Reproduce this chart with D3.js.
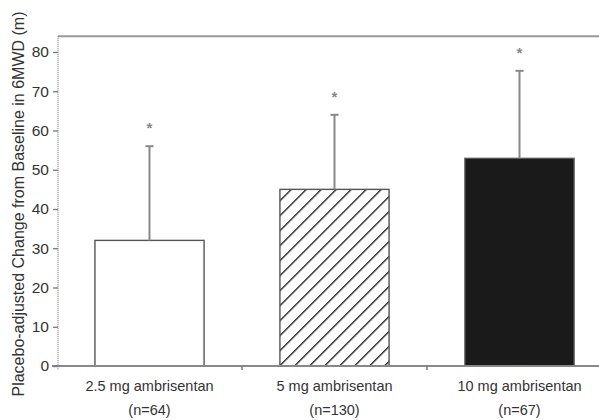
<!DOCTYPE html>
<html>
<head>
<meta charset="utf-8">
<script src="https://cdn.jsdelivr.net/npm/d3@7/dist/d3.min.js"></script>
<style>
  html, body { margin: 0; padding: 0; background: #fff; }
  svg { display: block; font-family: "Liberation Sans", Arial, sans-serif; }
</style>
</head>
<body>
<svg id="chart" width="599" height="420"></svg>
<script>
// Placebo-adjusted change in 6-minute walk distance by dose group
const categories = ["2.5 mg ambrisentan", "5 mg ambrisentan", "10 mg ambrisentan"];
const sampleSizes = ["(n=64)", "(n=130)", "(n=67)"];
const meanChange = [32, 45, 52.9];
const upperError = [56, 64, 75.2];
const significance = ["*", "*", "*"];
const yTicks = [0, 10, 20, 30, 40, 50, 60, 70, 80];
const yTitle = "Placebo-adjusted Change from Baseline in 6MWD (m)";

const svg = d3.select("#chart");

const x = d3.scaleBand()
  .domain(categories)
  .range([57, 612])
  .paddingInner(0.41)
  .paddingOuter(0.205);

const y = d3.scaleLinear().domain([0, 80]).range([366, 52]);

// hatch pattern for the middle dose
const defs = svg.append("defs");
const pat = defs.append("pattern")
  .attr("id", "hatch")
  .attr("patternUnits", "userSpaceOnUse")
  .attr("width", 10.6)
  .attr("height", 10.6)
  .attr("patternTransform", "rotate(45)");
pat.append("line")
  .attr("x1", 0).attr("y1", 0).attr("x2", 0).attr("y2", 10.6)
  .attr("stroke", "#111").attr("stroke-width", 2.6);

const fills = ["#ffffff", "url(#hatch)", "#1a1a1a"];

// top frame line
svg.append("line")
  .attr("x1", 58).attr("x2", 599)
  .attr("y1", y(84)).attr("y2", y(84))
  .attr("stroke", "#999").attr("stroke-width", 2);

// bars
const barW = x.bandwidth();
svg.append("g").selectAll("rect")
  .data(categories)
  .join("rect")
  .attr("x", d => x(d))
  .attr("y", (d, i) => y(meanChange[i]))
  .attr("width", barW)
  .attr("height", (d, i) => y(0) - y(meanChange[i]))
  .attr("fill", (d, i) => fills[i])
  .attr("stroke", "#555")
  .attr("stroke-width", 1.4);

// error bars (upper only)
const eb = svg.append("g").attr("stroke", "#888").attr("stroke-width", 2);
categories.forEach((c, i) => {
  const cx = x(c) + barW / 2;
  eb.append("line")
    .attr("x1", cx).attr("x2", cx)
    .attr("y1", y(meanChange[i])).attr("y2", y(upperError[i]));
  eb.append("line")
    .attr("x1", cx - 4).attr("x2", cx + 4)
    .attr("y1", y(upperError[i])).attr("y2", y(upperError[i]));
});

// significance markers
svg.append("g").selectAll("text")
  .data(categories)
  .join("text")
  .attr("x", d => x(d) + barW / 2)
  .attr("y", (d, i) => y(upperError[i]) - 13)
  .attr("text-anchor", "middle")
  .attr("font-size", 15)
  .attr("font-weight", "bold")
  .attr("fill", "#888")
  .text((d, i) => significance[i]);

// x axis baseline
svg.append("line")
  .attr("x1", 52).attr("x2", 599)
  .attr("y1", y(0)).attr("y2", y(0))
  .attr("stroke", "#888").attr("stroke-width", 2);

// category separator ticks
const sepTicks = [x(categories[1]) - x.step() * x.paddingInner() / 2,
                  x(categories[2]) - x.step() * x.paddingInner() / 2];
svg.append("g").selectAll("line")
  .data(sepTicks)
  .join("line")
  .attr("x1", d => d).attr("x2", d => d)
  .attr("y1", y(0)).attr("y2", y(0) + 4)
  .attr("stroke", "#777").attr("stroke-width", 1.5);

// y axis
const yAxis = svg.append("g")
  .attr("transform", "translate(58,0)")
  .call(d3.axisLeft(y).tickValues(yTicks).tickSize(5).tickPadding(4));
yAxis.select(".domain")
  .attr("d", `M0,${y(84)}V${y(0) + 4}`)
  .attr("stroke", "#999")
  .attr("stroke-width", 1.5)
  .attr("stroke-dasharray", "1,1");
yAxis.selectAll(".tick line").attr("stroke", "#777").attr("stroke-width", 1.3);
yAxis.selectAll(".tick text")
  .attr("font-size", 15.5)
  .attr("fill", "#333")
  .attr("font-family", "Liberation Sans, Arial, sans-serif");

// y axis title
svg.append("text")
  .attr("transform", `translate(24,${204}) rotate(-90)`)
  .attr("text-anchor", "middle")
  .attr("font-size", 16)
  .attr("fill", "#333")
  .text(yTitle);

// category labels
const lab = svg.append("g").attr("fill", "#333").attr("font-size", 14.5).attr("text-anchor", "middle");
categories.forEach((c, i) => {
  const cx = x(c) + barW / 2;
  lab.append("text").attr("x", cx).attr("y", 391).text(c);
  lab.append("text").attr("x", cx).attr("y", 415).text(sampleSizes[i]);
});
</script>
</body>
</html>
